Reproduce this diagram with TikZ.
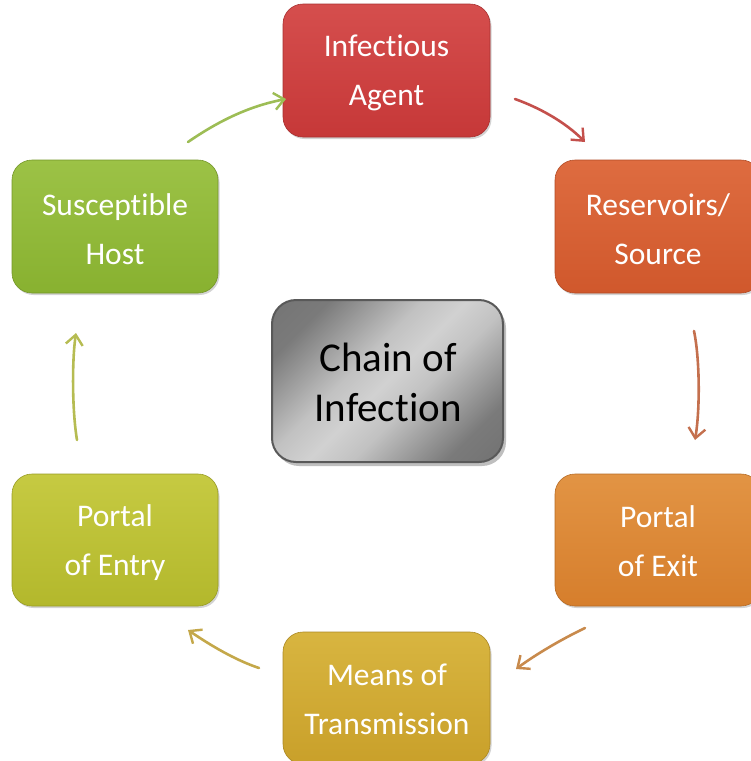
\documentclass[tikz,border=0pt]{standalone}
\usepackage{fontspec}
\setmainfont[Ligatures={NoCommon}]{Carlito}
\usetikzlibrary{arrows.meta,shadows}
\definecolor{cIA}{HTML}{C63838}
\definecolor{cIAt}{HTML}{D54E4D}
\definecolor{cRS}{HTML}{D0582C}
\definecolor{cRSt}{HTML}{DE6C40}
\definecolor{cPX}{HTML}{D67E2C}
\definecolor{cPXt}{HTML}{E29444}
\definecolor{cMT}{HTML}{C9A02A}
\definecolor{cMTt}{HTML}{D8B540}
\definecolor{cPN}{HTML}{B3B82C}
\definecolor{cPNt}{HTML}{C6CA42}
\definecolor{cSH}{HTML}{88B130}
\definecolor{cSHt}{HTML}{9CC246}
\definecolor{aGreen}{HTML}{9DBD55}
\definecolor{aRed}{HTML}{C4504C}
\definecolor{aRust}{HTML}{C4704E}
\definecolor{aBrown}{HTML}{C88A4C}
\definecolor{aGold}{HTML}{C4A84A}
\definecolor{aOlive}{HTML}{B6BC52}
\pgfdeclarehorizontalshading{grayband}{100bp}{color(0bp)=(black!58); color(25bp)=(black!52); color(42bp)=(black!24); color(50bp)=(black!18); color(58bp)=(black!24); color(75bp)=(black!52); color(100bp)=(black!60)}
\tikzset{
  box/.style={rounded corners=20pt, top color=#1t, bottom color=#1, draw=#1!85!black, line width=0.6pt,
     drop shadow={shadow xshift=1.5pt, shadow yshift=-2pt, opacity=0.35}},
  lbl/.style={text=white, font=\fontsize{31.5}{49}\selectfont, align=center},
  arr/.style={line width=2.6pt, line cap=round, -{Straight Barb[length=10pt,width=17pt,line width=2.4pt]}},
}
\begin{document}
\begin{tikzpicture}[x=1pt,y=-1pt]
\useasboundingbox (0,0) rectangle (751,761);
\clip (0,0) rectangle (751,761);
% boxes
\path[box=cIA] (283,4) rectangle (490,137);
\path[box=cRS] (555,160) rectangle (761,293);
\path[box=cPX] (555,474) rectangle (761,606);
\path[box=cMT] (283,632) rectangle (490,764);
\path[box=cPN] (12,474) rectangle (218,606);
\path[box=cSH] (12,160) rectangle (218,293);
% center
\fill[black!25, rounded corners=24pt] (275,304) rectangle (506,466);
\path[rounded corners=24pt, shading=grayband, shading angle=-45, draw=black!65, line width=2pt] (272,300) rectangle (503,462);
% labels
\node[lbl] (ia) at (386.5,73) {Infectious\\Agent};
\node[lbl] (rs) at (658,229) {Reservoirs/\\Source};
\node[lbl] (px) at (658,541) {Portal\\of Exit};
\node[lbl] (mt) at (387,699.5) {Means of\\Transmission};
\node[lbl] (pn) at (115,543) {Portal\\of Entry};
\node[lbl] (sh) at (115,229) {Susceptible\\Host};
\node[font=\fontsize{41}{50}\selectfont, align=center, text=black] (ch) at (388,382) {Chain of\\Infection};
% arrow endpoints
\coordinate (a1s) at (188,142); \coordinate (a1e) at (286,99);
\coordinate (a2s) at (515,99);  \coordinate (a2e) at (585,142);
\coordinate (a3s) at (694,331); \coordinate (a3e) at (695,440);
\coordinate (a4s) at (585,628); \coordinate (a4e) at (516,669);
\coordinate (a5s) at (259,668); \coordinate (a5e) at (188,630);
\coordinate (a6s) at (77,440);  \coordinate (a6e) at (76,333);
\draw[arr, color=aGreen] (a1s) .. controls (220,120) and (250,106) .. (a1e);
\draw[arr, color=aRed] (a2s) .. controls (540,108) and (565,122) .. (a2e);
\draw[arr, color=aRust] (a3s) .. controls (700,360) and (700,410) .. (a3e);
\draw[arr, color=aBrown] (a4s) .. controls (560,640) and (535,655) .. (a4e);
\draw[arr, color=aGold] (a5s) .. controls (235,660) and (210,645) .. (a5e);
\draw[arr, color=aOlive] (a6s) .. controls (72,410) and (72,360) .. (a6e);
\end{tikzpicture}
\end{document}
